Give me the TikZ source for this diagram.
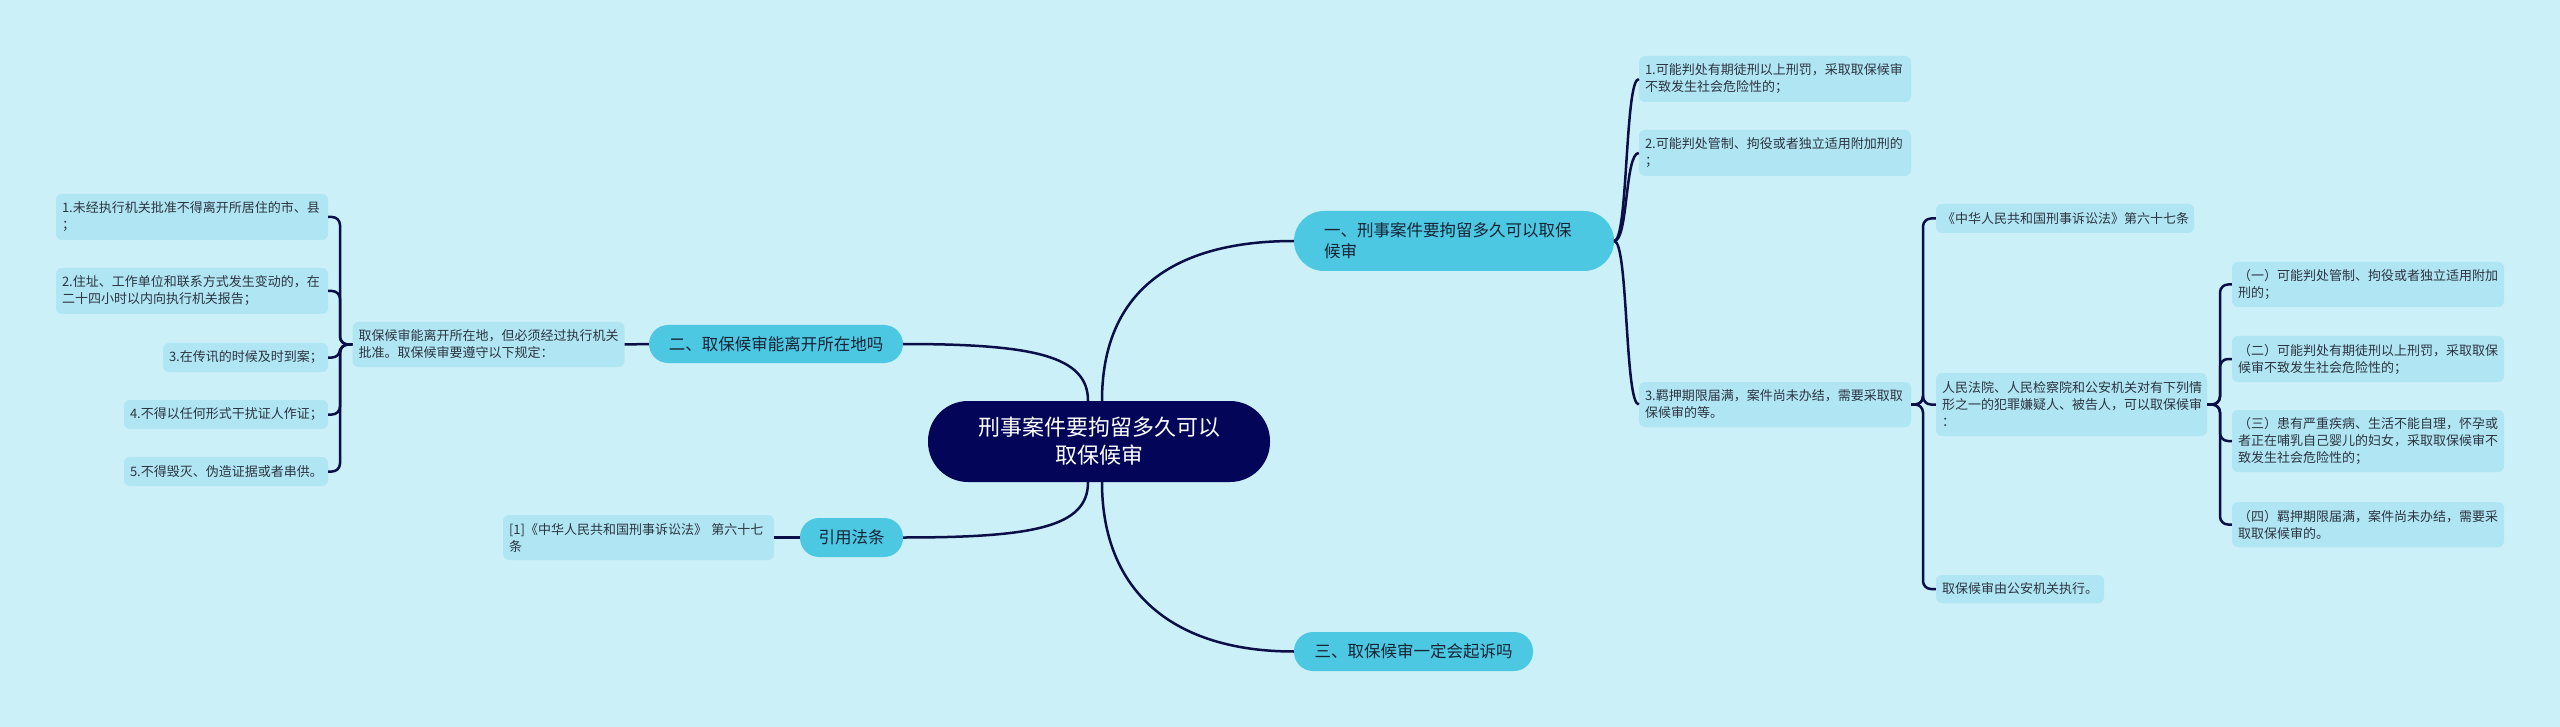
\documentclass[tikz,border=0pt]{standalone}
\usepackage{fontspec}
\newfontfamily\cjk{Noto Sans CJK SC}
\definecolor{bgcol}{RGB}{203,240,248}
\definecolor{leafcol}{RGB}{176,230,243}
\definecolor{pillcol}{RGB}{76,200,227}
\definecolor{rootcol}{RGB}{2,5,88}
\definecolor{linecol}{RGB}{12,14,72}
\definecolor{leaftext}{RGB}{45,52,64}
\definecolor{pilltext}{RGB}{22,36,52}
\tikzset{
  leaf/.style={fill=leafcol, rounded corners=6pt, text=leaftext, align=left,
    inner xsep=6pt, inner ysep=0pt, font=\cjk\fontsize{13}{17}\selectfont},
  pill/.style={fill=pillcol, text=pilltext, inner sep=0pt,
    font=\cjk\fontsize{16.5}{21}\selectfont},
  hub/.style={fill=rootcol, text=white, inner sep=0pt, align=center,
    font=\cjk\fontsize{22}{28}\selectfont},
  link/.style={draw=linecol, line width=2.5pt},
}
\begin{document}
\begin{tikzpicture}[x=1pt,y=-1pt]
\fill[bgcol] (0,0) rectangle (2560,727);
\useasboundingbox (0,0) rectangle (2560,727);

\node[hub, minimum width=342pt, minimum height=81pt, rounded corners=40pt] (root) at (1099,441.5) {刑事案件要拘留多久可以\\取保候审};

\node[pill, text width=260pt, inner xsep=30pt, align=left, minimum height=60pt, rounded corners=30pt] (yi) at (1454,241) {一、刑事案件要拘留多久可以取保\\候审};
\node[pill, minimum width=254pt, minimum height=38pt, rounded corners=19pt] (er) at (776,344) {二、取保候审能离开所在地吗};
\node[pill, minimum width=103pt, minimum height=39pt, rounded corners=19pt] (yin) at (851.5,537.5) {引用法条};
\node[pill, minimum width=239pt, minimum height=39pt, rounded corners=19pt] (san) at (1413.5,651.5) {三、取保候审一定会起诉吗};

% left side
\node[leaf, text width=260pt, minimum height=45pt] (erdesc) at (488.5,344.5) {取保候审能离开所在地，但必须经过执行机关\\批准。取保候审要遵守以下规定：};
\node[leaf, text width=260pt, minimum height=46pt] (rule1) at (192,217) {1.未经执行机关批准不得离开所居住的市、县\\；};
\node[leaf, text width=260pt, minimum height=46pt] (rule2) at (192,291) {2.住址、工作单位和联系方式发生变动的，在\\二十四小时以内向执行机关报告；};
\node[leaf, text width=153pt, minimum height=29pt] (rule3) at (245.5,357.5) {3.在传讯的时候及时到案；};
\node[leaf, text width=192pt, minimum height=29pt] (rule4) at (226,414.5) {4.不得以任何形式干扰证人作证；};
\node[leaf, text width=192pt, minimum height=29pt] (rule5) at (226,471.5) {5.不得毁灭、伪造证据或者串供。};
\node[leaf, text width=259pt, minimum height=45pt] (cite) at (638.5,537.5) {[1]《中华人民共和国刑事诉讼法》 第六十七\\条};

% right side
\node[leaf, text width=260pt, minimum height=46pt] (yia1) at (1775,79) {1.可能判处有期徒刑以上刑罚，采取取保候审\\不致发生社会危险性的；};
\node[leaf, text width=260pt, minimum height=46pt] (yia2) at (1775,153) {2.可能判处管制、拘役或者独立适用附加刑的\\；};
\node[leaf, text width=260pt, minimum height=45pt] (yia3) at (1775,404.5) {3.羁押期限届满，案件尚未办结，需要采取取\\保候审的等。};
\node[leaf, text width=246pt, minimum height=29pt] (lawref) at (2065,218.5) {《中华人民共和国刑事诉讼法》第六十七条};
\node[leaf, text width=259pt, minimum height=63pt] (courts) at (2071.5,404.5) {人民法院、人民检察院和公安机关对有下列情\\形之一的犯罪嫌疑人、被告人，可以取保候审\\：};
\node[leaf, text width=156pt, minimum height=28pt] (police) at (2020,589) {取保候审由公安机关执行。};
\node[leaf, text width=260pt, minimum height=45pt] (case1) at (2368,284.5) {（一）可能判处管制、拘役或者独立适用附加\\刑的；};
\node[leaf, text width=260pt, minimum height=46pt] (case2) at (2368,359) {（二）可能判处有期徒刑以上刑罚，采取取保\\候审不致发生社会危险性的；};
\node[leaf, text width=260pt, minimum height=62pt] (case3) at (2368,441) {（三）患有严重疾病、生活不能自理，怀孕或\\者正在哺乳自己婴儿的妇女，采取取保候审不\\致发生社会危险性的；};
\node[leaf, text width=260pt, minimum height=45pt] (case4) at (2368,524.5) {（四）羁押期限届满，案件尚未办结，需要采\\取取保候审的。};

\coordinate (erfork) at (340,344.5);
\coordinate (yiafork) at (1923,404.5);
\coordinate (courtfork) at (2220,404.5);

% connectors
\draw[link] ([xshift=3pt]root.north) .. controls +(0,-110) and +(-120,0) .. (yi.west);
\draw[link] ([xshift=-11pt]root.north) .. controls +(0,-45) and +(130,0) .. (er.east);
\draw[link] ([xshift=-11pt]root.south) .. controls +(0,45) and +(130,0) .. (yin.east);
\draw[link] ([xshift=3pt]root.south) .. controls +(0,110) and +(-120,0) .. (san.west);
\draw[link] (er.west) -- (erdesc.east);
\draw[link] (yin.west) -- (cite.east);
\foreach \n in {rule1,rule2,rule3,rule4,rule5}
  \draw[link, rounded corners=8pt] (erdesc.west) -- (erfork) |- (\n.east);
\foreach \n in {yia1,yia2,yia3}
  \draw[link] (yi.east) .. controls +(14,0) and +(-14,0) .. (\n.west);
\foreach \n in {lawref,courts,police}
  \draw[link, rounded corners=8pt] (yia3.east) -- (yiafork) |- (\n.west);
\foreach \n in {case1,case2,case3,case4}
  \draw[link, rounded corners=8pt] (courts.east) -- (courtfork) |- (\n.west);
\end{tikzpicture}
\end{document}
